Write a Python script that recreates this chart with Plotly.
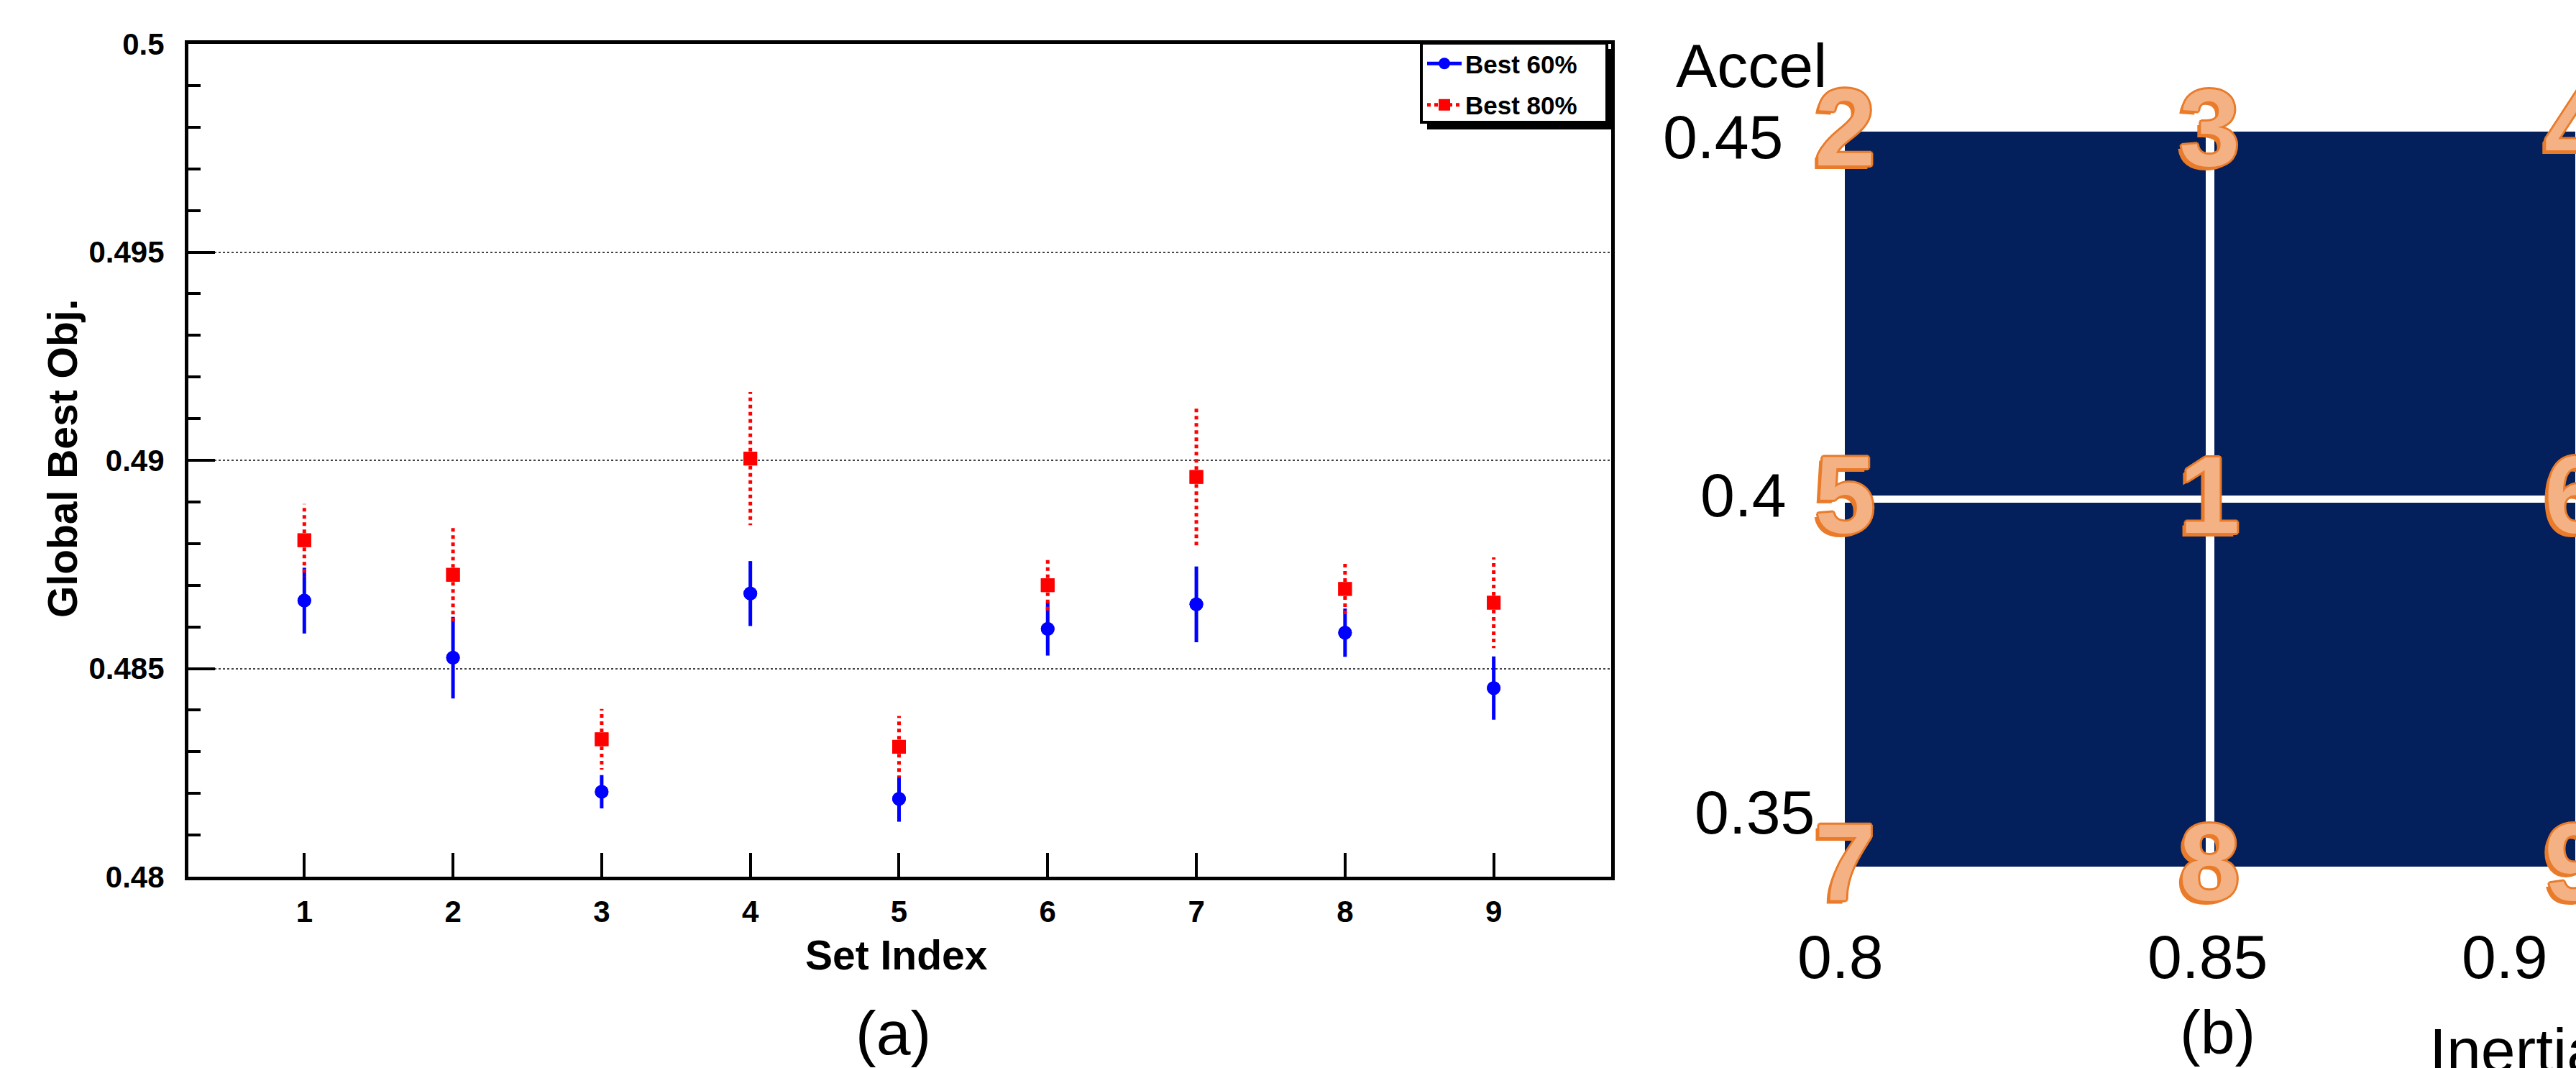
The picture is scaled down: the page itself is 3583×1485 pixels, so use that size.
import plotly.graph_objects as go

# ---- data -------------------------------------------------------------
# Global best objective for each parameter set: mean and half-spread
set_index = [1, 2, 3, 4, 5, 6, 7, 8, 9]
best60_mean = [0.48663, 0.48526, 0.48204, 0.48680, 0.48187, 0.48595, 0.48654, 0.48586, 0.48453]
best60_err = [0.00079, 0.00098, 0.00040, 0.00078, 0.00055, 0.00064, 0.00091, 0.00058, 0.00076]
best80_mean = [0.48808, 0.48725, 0.48330, 0.49004, 0.48312, 0.48700, 0.48960, 0.48691, 0.48658]
best80_err = [0.00087, 0.00115, 0.00073, 0.00160, 0.00074, 0.00067, 0.00170, 0.00067, 0.00109]

y_major = [0.48, 0.485, 0.49, 0.495, 0.5]
y_major_text = ["0.48", "0.485", "0.49", "0.495", "0.5"]

# Parameter grid (inertia x acceleration) and where each set sits on it
inertia_ticks = [0.8, 0.85, 0.9]
inertia_text = ["0.8", "0.85", "0.9"]
accel_ticks = [0.35, 0.4, 0.45]
accel_text = ["0.35", "0.4", "0.45"]
set_inertia = [0.85, 0.8, 0.85, 0.9, 0.8, 0.9, 0.8, 0.85, 0.9]
set_accel = [0.4, 0.45, 0.45, 0.45, 0.4, 0.4, 0.35, 0.35, 0.35]

# ---- styling ----------------------------------------------------------
W, H = 3583, 1485
FONT = "Liberation Sans, Arial, Helvetica, sans-serif"
BLUE = "#0000FF"
RED = "#FF0000"
NAVY = "#03205C"
ORANGE = "#E97B2A"
PEACH = "#F4B183"
CLEAR = "rgba(0,0,0,0)"


def px(x):
    return x / W


def py(y):
    return 1 - y / H


def spread_trace(name, means, errs, color, symbol, dash, group):
    """Marker at the mean with a vertical bar spanning mean +/- spread."""
    xs, ys, cs = [], [], []
    for x, m, e in zip(set_index, means, errs):
        xs += [x, x, None, x, x, None]
        ys += [m, m + e, None, m, m - e, None]
        cs += [color, CLEAR, CLEAR, color, CLEAR, CLEAR]
    return go.Scatter(
        x=xs, y=ys, mode="lines+markers", name=name, legendgroup=group,
        connectgaps=False,
        line=dict(color=color, width=5, dash=dash),
        marker=dict(symbol=symbol, size=19, color=cs, line=dict(width=0)),
        xaxis="x", yaxis="y", hoverinfo="skip",
    )


traces = [
    spread_trace("Best 60%", best60_mean, best60_err, BLUE, "circle", "solid", "g60"),
    spread_trace("Best 80%", best80_mean, best80_err, RED, "square", "dot", "g80"),
    # 2x2 grid of parameter cells
    go.Heatmap(
        x=inertia_ticks, y=accel_ticks, z=[[1, 1], [1, 1]],
        colorscale=[[0, NAVY], [1, NAVY]], zmin=0, zmax=2,
        showscale=False, hoverinfo="skip", xaxis="x2", yaxis="y2",
        showlegend=False,
    ),
]

fig = go.Figure(traces)

tick_font = dict(family=FONT, size=42, color="black", weight="bold")

shapes = [
    # legend box with drop shadow
    dict(type="rect", xref="paper", yref="paper", layer="above",
         x0=px(1985), x1=px(2245), y0=py(180), y1=py(68),
         fillcolor="black", line=dict(width=0)),
    dict(type="rect", xref="paper", yref="paper", layer="above",
         x0=px(1977), x1=px(2235), y0=py(170), y1=py(60),
         fillcolor="white", line=dict(color="black", width=4)),
    # white separators between the grid cells
    dict(type="line", xref="x2", yref="y2", layer="above",
         x0=inertia_ticks[1], x1=inertia_ticks[1], y0=accel_ticks[0], y1=accel_ticks[-1],
         line=dict(color="white", width=12)),
    dict(type="line", xref="x2", yref="y2", layer="above",
         x0=inertia_ticks[0], x1=inertia_ticks[-1], y0=accel_ticks[1], y1=accel_ticks[1],
         line=dict(color="white", width=10)),
]

annotations = [
    dict(text="Set Index", xref="paper", yref="paper", x=px(1247), y=py(1328),
         showarrow=False, xanchor="center", yanchor="middle",
         font=dict(family=FONT, size=57, color="black", weight="bold")),
    dict(text="Global Best Obj.", xref="paper", yref="paper", x=px(87), y=py(638),
         showarrow=False, xanchor="center", yanchor="middle", textangle=-90,
         font=dict(family=FONT, size=57, color="black", weight="bold")),
    dict(text="(a)", xref="paper", yref="paper", x=px(1242), y=py(1436),
         showarrow=False, xanchor="center", yanchor="middle",
         font=dict(family=FONT, size=86, color="black")),
    dict(text="(b)", xref="paper", yref="paper", x=px(3084), y=py(1435),
         showarrow=False, xanchor="center", yanchor="middle",
         font=dict(family=FONT, size=86, color="black")),
    dict(text="Accel", xref="paper", yref="paper", x=px(2436), y=py(91),
         showarrow=False, xanchor="center", yanchor="middle",
         font=dict(family=FONT, size=86, color="black")),
    dict(text="Inertia", xref="paper", yref="paper", x=px(3377), y=py(1460),
         showarrow=False, xanchor="left", yanchor="middle",
         font=dict(family=FONT, size=86, color="black")),
]

# acceleration labels beside the grid (pixel nudges per label)
accel_shift = {0.35: (-40, 76), 0.4: (-79, 6), 0.45: (-84, -7)}
for val, txt in zip(accel_ticks, accel_text):
    dx, dy = accel_shift[val]
    annotations.append(dict(
        text=txt, xref="x2", yref="y2", x=inertia_ticks[0], y=val,
        xanchor="right", yanchor="middle", xshift=dx, yshift=dy, showarrow=False,
        font=dict(family=FONT, size=86, color="black")))

# inertia labels under the grid
inertia_shift = {0.8: -6, 0.85: -3, 0.9: -98}
for val, txt in zip(inertia_ticks, inertia_text):
    annotations.append(dict(
        text=txt, xref="x2", yref="y2", x=val, y=accel_ticks[0],
        xanchor="center", yanchor="middle", xshift=inertia_shift[val], yshift=-125,
        showarrow=False, font=dict(family=FONT, size=86, color="black")))

# set numbers placed on the grid nodes
digit_shadow = ", ".join([
    f"3px 0 0 {ORANGE}", f"-3px 0 0 {ORANGE}", f"0 3px 0 {ORANGE}", f"0 -3px 0 {ORANGE}",
    f"2px 2px 0 {ORANGE}", f"-2px -2px 0 {ORANGE}", f"2px -2px 0 {ORANGE}",
    f"-2px 2px 0 {ORANGE}", f"-5px 5px 0 {ORANGE}",
])
for idx, xi, yi in zip(set_index, set_inertia, set_accel):
    annotations.append(dict(
        text=str(idx), xref="x2", yref="y2", x=xi, y=yi,
        xanchor="center", yanchor="middle", yshift=6, showarrow=False,
        font=dict(family=FONT, size=152, color=PEACH, weight="bold", shadow=digit_shadow)))

fig.update_layout(
    width=W, height=H,
    margin=dict(l=0, r=0, t=0, b=0, pad=0, autoexpand=False),
    paper_bgcolor="white", plot_bgcolor="white",
    font=dict(family=FONT, color="black"),
    hovermode=False,
    showlegend=True,
    xaxis=dict(
        domain=[px(262), px(2241)], range=[0.22, 9.79], anchor="y",
        tickmode="array", tickvals=set_index, ticktext=[str(i) for i in set_index],
        ticks="inside", ticklen=33, tickwidth=4, tickcolor="black",
        showline=True, linewidth=5, linecolor="black", mirror=True,
        showgrid=False, zeroline=False, tickfont=tick_font, ticklabelstandoff=8,
        automargin=False,
    ),
    yaxis=dict(
        domain=[py(1219), py(61)], range=[0.48, 0.5], anchor="x",
        tickmode="array", tickvals=y_major, ticktext=y_major_text,
        ticks="inside", ticklen=37, tickwidth=4, tickcolor="black",
        minor=dict(tick0=0.48, dtick=0.001, ticks="inside", ticklen=17,
                   tickwidth=4, tickcolor="black", showgrid=False),
        showline=True, linewidth=5, linecolor="black", mirror=True,
        showgrid=True, gridcolor="#444444", gridwidth=1.5, griddash="dot",
        zeroline=False, tickfont=tick_font, ticklabelstandoff=20,
        automargin=False,
    ),
    xaxis2=dict(domain=[px(2566), 1.0], range=[0.8, 0.9001], visible=False, anchor="y2"),
    yaxis2=dict(domain=[py(1205), py(183)], range=[0.35, 0.45], visible=False, anchor="x2"),
    legend=dict(
        x=px(1980), y=py(59), xanchor="left", yanchor="top",
        bgcolor=CLEAR, borderwidth=0, itemwidth=48, tracegroupgap=9,
        traceorder="grouped", itemclick=False, itemdoubleclick=False,
        font=dict(family=FONT, size=35, color="black", weight="bold"),
    ),
    shapes=shapes,
    annotations=annotations,
)

fig.write_html("out.html")
